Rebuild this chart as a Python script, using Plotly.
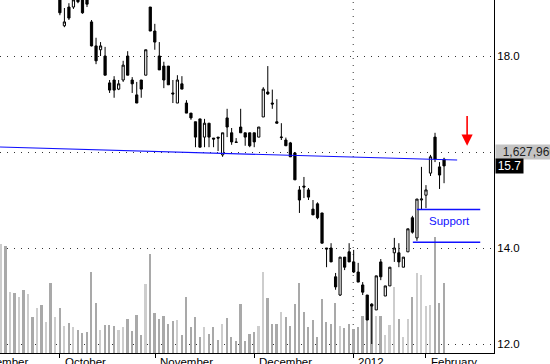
import plotly.graph_objects as go

# ---------------- data ----------------
# trading-day index 0..98 ; candles exist from day 13 on
volumes_k = [883, 867, 494, 486, 454, 510, 478, 292, 365, 389, 251, 567, 292, 365, 219, 243, 211, 186, 162, 170,
             656, 405, 186, 227, 227, 219, 186, 211, 275, 178, 308, 146, 559, 802, 324, 275, 300, 235, 259, 267,
             146, 454, 211, 292,
             130, 211, 154, 211, 105, 235, 284, 130, 97, 397, 97, 154, 170, 219, 656, 446, 235, 235, 332, 292,
             219, 397, 567, 332, 211, 267, 130, 437, 251, 235, 405, 219, 203, 235, 194, 211, 300, 275,
             389, 300, 300, 146, 227, 535, 275, 130, 275, 454, 648, 632, 381, 389, 940, 405, 567]

candle_start = 13
opens = [19.27, 18.63, 19.02, 19.02, 19.20, 19.20, 19.17, 18.71, 18.21, 18.13, 18.00, 17.44, 17.50, 17.31, 17.50,
         18.00, 17.50, 17.19, 17.50, 17.60, 19.02, 18.52, 18.00, 17.79, 17.79, 17.23, 17.02, 17.42, 17.02, 16.81,
         16.63, 16.69, 16.31, 16.60, 16.29, 16.31, 15.94, 16.71, 16.40, 16.21, 16.52, 16.40, 16.40, 16.40, 16.31,
         16.73, 17.25, 17.02, 16.63, 16.30, 16.25, 16.19, 15.98, 15.21, 15.29, 15.21, 14.81, 14.92, 14.73, 14.00,
         14.00, 13.40, 13.02, 13.81, 13.92, 13.71, 13.50, 13.23, 13.02, 12.83, 12.71, 13.71, 13.00, 13.21, 13.90,
         13.90, 13.60, 13.92, 14.63, 14.21, 15.00, 15.10, 15.56, 16.31, 15.69, 15.85]
highs = [19.40, 19.00, 19.10, 19.30, 19.30, 19.30, 19.25, 18.75, 18.38, 18.29, 18.19, 17.50, 17.58, 17.50, 17.90,
         18.10, 17.56, 17.46, 17.50, 18.13, 19.02, 18.67, 18.29, 17.88, 17.79, 17.50, 17.60, 17.58, 17.08, 16.81,
         16.63, 16.69, 16.69, 16.60, 16.29, 16.31, 16.40, 16.90, 16.50, 16.29, 16.90, 16.40, 16.40, 16.40, 16.52,
         17.35, 17.79, 17.30, 17.10, 16.60, 16.30, 16.21, 16.00, 15.29, 15.48, 15.25, 15.00, 14.95, 14.73, 14.00,
         14.10, 13.48, 13.81, 13.81, 14.10, 13.96, 13.69, 13.29, 13.02, 12.85, 13.42, 13.77, 13.21, 13.60, 14.21,
         14.10, 13.81, 14.40, 14.67, 15.02, 15.69, 15.31, 15.94, 16.40, 15.79, 15.88]
lows = [18.85, 18.60, 18.75, 18.98, 19.10, 18.88, 19.02, 18.20, 17.83, 18.00, 17.60, 17.23, 17.13, 17.29, 17.46,
        17.60, 17.23, 17.02, 17.13, 17.60, 18.52, 18.13, 17.71, 17.33, 17.40, 17.02, 17.02, 17.31, 16.81, 16.67,
        16.10, 16.10, 16.10, 16.10, 16.10, 16.02, 15.90, 16.31, 16.15, 16.19, 16.40, 16.13, 16.10, 16.10, 16.31,
        16.73, 17.19, 16.90, 16.60, 16.25, 16.13, 15.90, 15.42, 14.73, 15.04, 15.00, 14.69, 14.60, 14.10, 13.60,
        13.71, 13.13, 13.00, 13.54, 13.71, 13.48, 13.29, 13.02, 12.50, 12.00, 12.71, 13.33, 13.00, 13.21, 13.71,
        13.60, 13.60, 13.92, 14.30, 14.15, 14.81, 14.83, 15.50, 15.79, 15.23, 15.35]
closes = [18.90, 18.71, 18.79, 19.17, 19.13, 18.90, 19.08, 18.21, 17.90, 18.21, 17.60, 17.29, 17.29, 17.42, 17.81,
          17.60, 17.42, 17.02, 17.31, 18.13, 18.52, 18.29, 17.71, 17.50, 17.40, 17.21, 17.50, 17.31, 16.81, 16.71,
          16.31, 16.10, 16.60, 16.31, 16.27, 16.29, 16.40, 16.52, 16.21, 16.20, 16.40, 16.31, 16.13, 16.21, 16.52,
          17.31, 17.21, 17.00, 16.60, 16.31, 16.13, 15.90, 15.42, 15.00, 15.27, 15.06, 14.69, 14.63, 14.10, 13.98,
          13.71, 13.19, 13.81, 13.60, 13.71, 13.50, 13.29, 13.08, 12.50, 12.79, 13.42, 13.40, 13.21, 13.60, 14.00,
          13.71, 13.81, 14.40, 14.33, 15.02, 15.02, 15.21, 15.90, 15.85, 15.52, 15.71]

month_labels = ["September", "October", "November", "December", "2012", "February"]
month_tick_idx = [-7.5, 13.0, 34.1, 56.0, 77.9, 94.0]

price_ticks = [12, 14, 16, 18]
price_tick_text = ["12.0", "14.0", "", "18.0"]   # 16.0 is hidden behind the volume tag

trend_x = [-0.25, 100.9]
trend_y = [16.104, 15.833]
support_top = 14.80
support_bottom = 14.12
support_x_top = [92.0, 106.0]
support_x_bottom = [91.1, 106.0]
arrow_idx = 103.1
arrow_tip, arrow_tail = 16.13, 16.78
volume_label = "1,627,960"
volume_label_level = 16.0
last_price_label = "15.7"

x_range = [-0.25, 109.05]
price_range = [11.8125, 19.1667]
vol_range = [0, 2859]

# --------------- figure ---------------
days = list(range(len(volumes_k)))
cdays = days[candle_start:]

vol_colors = []
for i in days:
    j = i - candle_start
    if j >= 0:
        up = closes[j] >= opens[j]
    else:
        up = (i % 2 == 0)
    vol_colors.append("#cdcdcd" if up else "#a9a9a9")

fig = go.Figure()
fig.add_trace(go.Bar(x=days, y=volumes_k, width=0.38, marker=dict(color=vol_colors, line=dict(width=0)),
                     yaxis="y", showlegend=False, hoverinfo="skip"))
fig.add_trace(go.Candlestick(x=cdays, open=opens, high=highs, low=lows, close=closes, yaxis="y2",
                             increasing=dict(line=dict(color="black", width=1), fillcolor="white"),
                             decreasing=dict(line=dict(color="black", width=1), fillcolor="black"),
                             whiskerwidth=0, showlegend=False))

font_family = "Liberation Sans, Arial, sans-serif"
dotdash = "1px,6px"

shapes = [
    dict(type="line", xref="x", yref="y2", x0=trend_x[0], x1=trend_x[1], y0=trend_y[0], y1=trend_y[1],
         line=dict(color="#1010ff", width=1.2)),
    dict(type="line", xref="x", yref="y2", x0=support_x_top[0], x1=support_x_top[1], y0=support_top,
         y1=support_top, line=dict(color="#1010ff", width=1.5)),
    dict(type="line", xref="x", yref="y2", x0=support_x_bottom[0], x1=support_x_bottom[1], y0=support_bottom,
         y1=support_bottom, line=dict(color="#1010ff", width=1.5)),
    dict(type="line", xref="x", yref="paper", x0=month_tick_idx[4], x1=month_tick_idx[4], y0=0, y1=1,
         line=dict(color="#333333", width=1, dash=dotdash), layer="below"),
]

span = x_range[1] - x_range[0]
annotations = []
for lab, t in zip(month_labels, month_tick_idx):
    annotations.append(dict(text=lab, xref="paper", yref="paper", x=(t - x_range[0]) / span, y=0,
                            xanchor="left", yanchor="top", xshift=3, yshift=-1, showarrow=False,
                            font=dict(family=font_family, size=11.5, color="black")))
annotations += [
    dict(text="Support", xref="x", yref="y2", x=99.3, y=14.56, showarrow=False,
         font=dict(family=font_family, size=11.5, color="#1010ff")),
    dict(text="", xref="x", yref="y2", x=arrow_idx, y=arrow_tip, axref="x", ayref="y2", ax=arrow_idx,
         ay=arrow_tail, showarrow=True, arrowhead=2, arrowsize=1.4, arrowwidth=1.6, arrowcolor="#ff0000"),
    dict(text="&nbsp;&nbsp;" + volume_label, xref="paper", yref="y2", x=1, y=volume_label_level,
         xanchor="left", yanchor="middle", showarrow=False, bgcolor="#c4c4c4", width=80, align="left",
         borderpad=0, xshift=1, font=dict(family=font_family, size=12, color="#222222")),
    dict(text=last_price_label, xref="paper", yref="y2", x=1, y=closes[-1], xanchor="left",
         yanchor="middle", showarrow=False, bgcolor="black", width=27, align="center", borderpad=0,
         xshift=1, font=dict(family=font_family, size=12, color="white")),
]

fig.update_layout(
    width=550, height=364,
    margin=dict(l=0, r=56, t=0, b=11),
    paper_bgcolor="white", plot_bgcolor="white",
    xaxis=dict(range=x_range, rangeslider=dict(visible=False), showgrid=False, zeroline=False,
               showline=True, linecolor="black", linewidth=1, tickvals=month_tick_idx,
               ticks="outside", ticklen=4, tickcolor="black", showticklabels=False),
    yaxis=dict(range=vol_range, visible=False, fixedrange=True),
    yaxis2=dict(range=price_range, overlaying="y", side="right", showgrid=True, gridcolor="#333333",
                griddash=dotdash, gridwidth=1, zeroline=False, showline=True, linecolor="black", linewidth=1,
                tickvals=price_ticks, ticktext=price_tick_text, ticks="",
                tickfont=dict(family=font_family, size=11.5, color="black")),
    shapes=shapes,
    annotations=annotations,
    bargap=0,
    showlegend=False,
)

fig.write_html("out.html")
